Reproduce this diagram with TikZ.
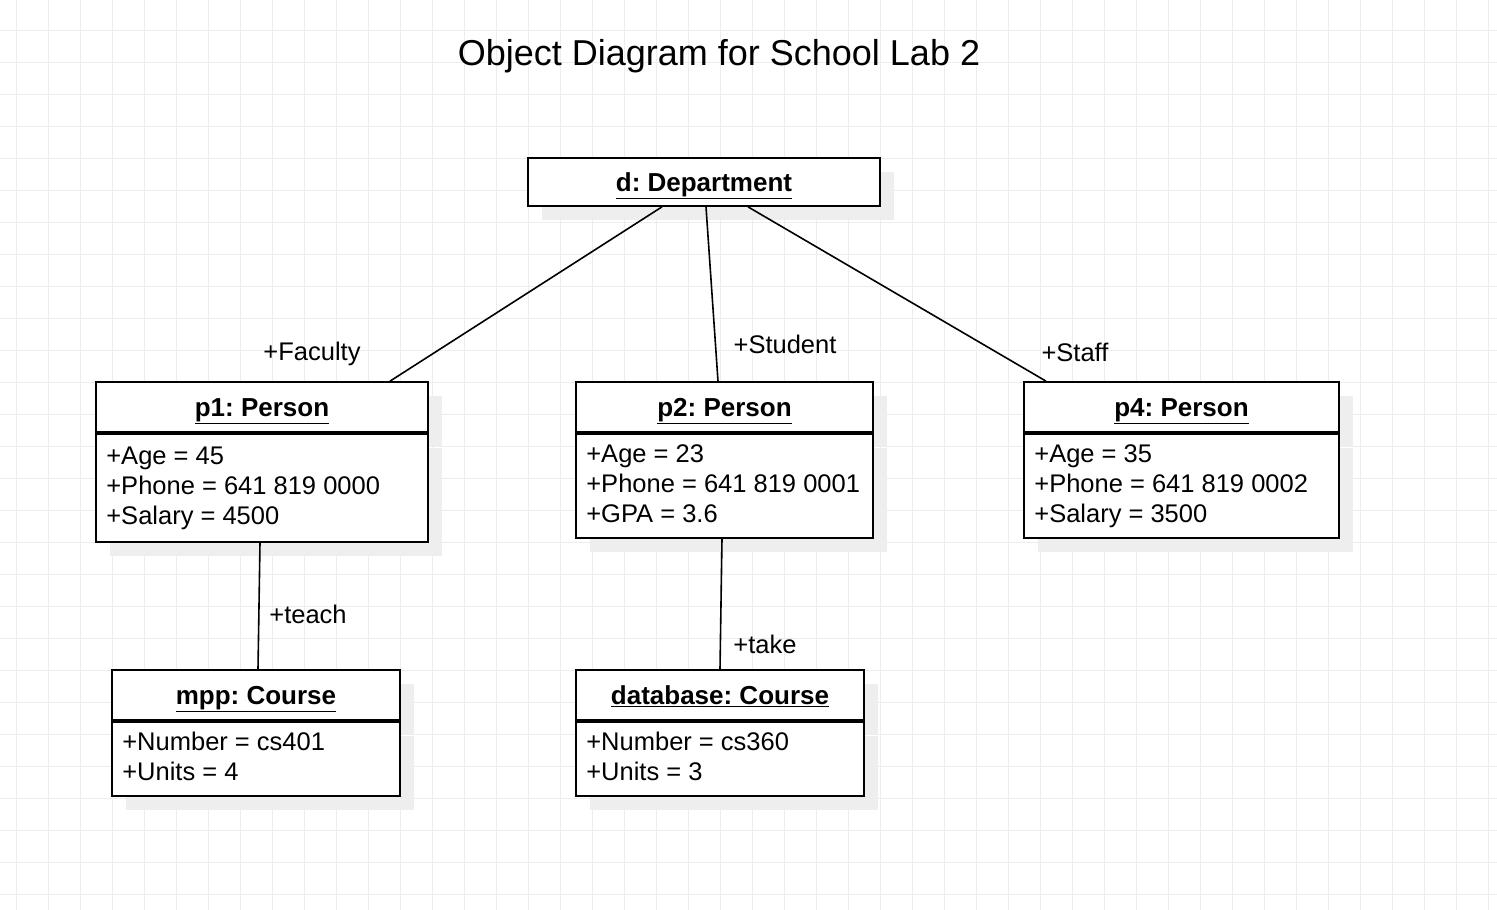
\documentclass[tikz,border=0pt]{standalone}
\usepackage{fontspec}
\setmainfont{Liberation Sans}
\frenchspacing
\usetikzlibrary{positioning,shadows}
\definecolor{gridgray}{HTML}{EDEDED}
\definecolor{shadowgray}{HTML}{EEEEEE}
\newcommand{\objname}[1]{{\fontsize{26}{30}\selectfont\underline{\textbf{#1}}}}
\tikzset{
  objshadow/.style={drop shadow={shadow xshift=14pt, shadow yshift=-14pt, fill=shadowgray, opacity=1}},
  objhead/.style={draw, line width=1.7pt, fill=white, inner sep=0pt, minimum height=50, text height=19pt, text depth=0pt, objshadow},
  objbody/.style={draw, line width=1.7pt, fill=white, inner sep=0pt, anchor=north, objshadow},
  attrtext/.style={inner sep=0pt, align=left, anchor=west},
  link/.style={line width=1.6pt},
  gridline/.style={gridgray, line width=0.9pt}
}
\begin{document}
\begin{tikzpicture}[x=1pt,y=-1pt,font=\fontsize{25.5}{30}\selectfont]
\useasboundingbox (0,0) rectangle (1497,910);
% background grid
\foreach \x in {16,48,...,1496}
{
    \draw[gridline] (\x,0) -- (\x,910);
}
\foreach \y in {30,62,...,910}
{
    \draw[gridline] (0,\y) -- (1497,\y);
}

\node (title) at (719,56) {\fontsize{36}{43}\selectfont Object Diagram for School Lab 2};

\node[objhead, minimum width=352, minimum height=48] (d) at (704,182) {\objname{d: Department}};

% objects with attributes
\foreach \nm/\x/\y/\w/\h/\ttl/\attr in {
    p1/262/407/332/108/p1: Person/{+Age = 45\\+Phone = 641 819 0000\\+Salary = 4500},
    p2/724.5/407/297/104/p2: Person/{+Age = 23\\+Phone = 641 819 0001\\+GPA = 3.6},
    p4/1181.5/407/315/104/p4: Person/{+Age = 35\\+Phone = 641 819 0002\\+Salary = 3500},
    mpp/256/695/288/74/mpp: Course/{+Number = cs401\\+Units = 4},
    db/720/695/288/74/database: Course/{+Number = cs360\\+Units = 3}}
{
    \node[objhead, minimum width=\w] (\nm) at (\x,\y) {\objname{\ttl}};
    \node[objbody, minimum width=\w, minimum height=\h] (\nm b) at (\nm.south) {};
    \node[attrtext] (\nm t) at ([xshift=11pt,yshift=-1pt]\nm b.west) {\strut\attr\strut};
}

\draw[link] ([xshift=-42pt]d.south) -- ([xshift=128pt]p1.north);
\draw[link] ([xshift=2pt]d.south) -- ([xshift=-6.5pt]p2.north);
\draw[link] ([xshift=44pt]d.south) -- ([xshift=-135.5pt]p4.north);
\draw[link] ([xshift=-2pt]p1b.south) -- ([xshift=2pt]mpp.north);
\draw[link] ([xshift=-2.5pt]p2b.south) -- (db.north);

\foreach \nm/\x/\y/\t in {faculty/312/354/+Faculty, student/785/344/+Student, staff/1075/352/+Staff, teach/308/614/+teach, take/765/644/+take}
{
    \node (\nm) at (\x,\y) {\t};
}
\end{tikzpicture}
\end{document}
